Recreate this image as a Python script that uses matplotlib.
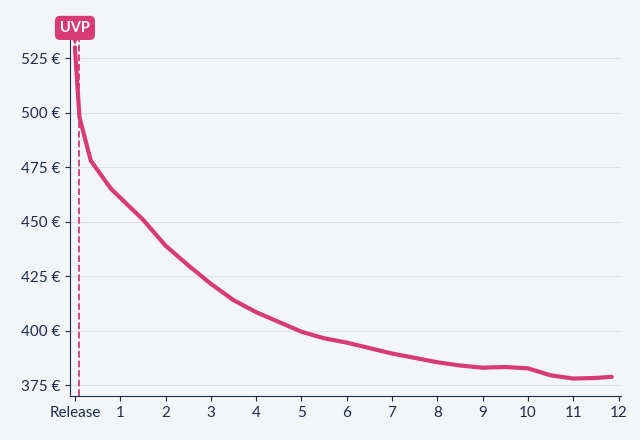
import matplotlib
matplotlib.use("Agg")
import matplotlib.pyplot as plt

plt.rcParams['font.family'] = ['Lato', 'DejaVu Sans']

# months after release vs. price in EUR
months = [0.0, 0.1, 0.35, 0.8, 1.5, 2.0, 2.5, 3.0, 3.5, 4.0, 4.5, 5.0, 5.5, 6.0,
          6.5, 7.0, 7.5, 8.0, 8.5, 9.0, 9.5, 10.0, 10.5, 11.0, 11.5, 11.85]
prices = [530, 498, 478, 465, 451, 439, 430, 421.5, 414, 408.5, 404, 399.5, 396.5, 394.5,
          392, 389.5, 387.5, 385.5, 384, 383, 383.3, 382.7, 379.5, 378, 378.3, 378.8]
uvp_month = 0.09
x_ticks = list(range(13))
x_labels = ['Release'] + [str(i) for i in range(1, 13)]
y_ticks = [375, 400, 425, 450, 475, 500, 525]

bg = '#f3f6f9'
pink = '#d83a73'
navy = '#1d2b4f'

fig, ax = plt.subplots(figsize=(6.4, 4.4), dpi=100)
fig.patch.set_facecolor(bg)
ax.set_facecolor(bg)
fig.subplots_adjust(left=0.11, right=0.97, top=0.922, bottom=0.1)

ax.plot(months, prices, color=pink, linewidth=3, solid_capstyle='round', zorder=3)
ax.axvline(uvp_month, color=pink, linestyle='--', linewidth=1.3, zorder=2)

ax.set_xlim(-0.1, 12.05)
ax.set_ylim(370, 536)
ax.set_xticks(x_ticks)
ax.set_xticklabels(x_labels)
ax.set_yticks(y_ticks)
ax.set_yticklabels([f'{v} €' for v in y_ticks])
ax.grid(axis='y', color='#dde2e8', linewidth=0.8)
ax.set_axisbelow(True)
for s in ['top', 'right']:
    ax.spines[s].set_visible(False)
ax.spines['left'].set_color(navy)
ax.spines['bottom'].set_color(navy)
ax.tick_params(colors=navy, labelsize=11)

ax.annotate('UVP', xy=(months[0], prices[0]), xytext=(0, 9), textcoords='offset points',
            ha='center', va='bottom', color='white', fontsize=10.5, fontweight='bold',
            bbox=dict(boxstyle='round,pad=0.3', fc=pink, ec=pink),
            arrowprops=dict(arrowstyle='-|>', color=pink, lw=0), annotation_clip=False)

fig.savefig('out.png', facecolor=bg)
